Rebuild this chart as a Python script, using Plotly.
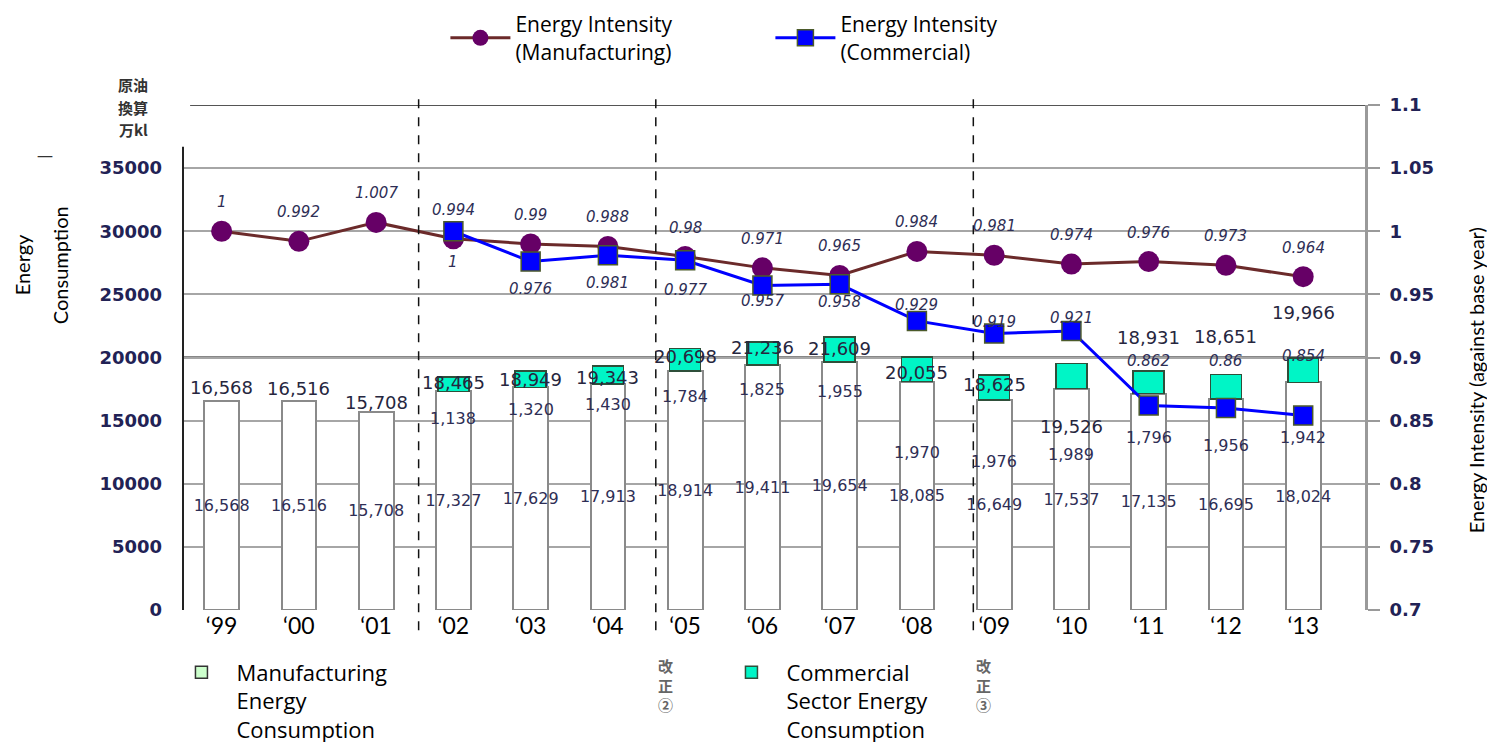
import plotly.graph_objects as go

years = ["‘99", "‘00", "‘01", "‘02", "‘03", "‘04", "‘05", "‘06", "‘07", "‘08", "‘09", "‘10", "‘11", "‘12", "‘13"]
mfg_energy = [16568, 16516, 15708, 17327, 17629, 17913, 18914, 19411, 19654, 18085, 16649, 17537, 17135, 16695, 18024]
com_energy = [None, None, None, 1138, 1320, 1430, 1784, 1825, 1955, 1970, 1976, 1989, 1796, 1956, 1942]
total_energy = [16568, 16516, 15708, 18465, 18949, 19343, 20698, 21236, 21609, 20055, 18625, 19526, 18931, 18651, 19966]
mfg_intensity = [1, 0.992, 1.007, 0.994, 0.99, 0.988, 0.98, 0.971, 0.965, 0.984, 0.981, 0.974, 0.976, 0.973, 0.964]
com_intensity = [None, None, None, 1, 0.976, 0.981, 0.977, 0.957, 0.958, 0.929, 0.919, 0.921, 0.862, 0.86, 0.854]

# label pixel offsets (style: as placed in the original chart; + is up)
total_label_shift = [13, 13, 9, -6, -9, -12, -8, -6, -11, -16, -10, -63, 34, 38, 45]
com_label_shift = [0, 0, 0, -27, -22, -21, -25, -25, -30, -71, -62, -66, -44, -46, -55]
com_int_shift = [0, 0, 0, -31, -27, -28, -30, -15, -18, 16, 12, 13, 44, 47, 60]
mfg_int_shift = 29

revision_boundaries = [2.55, 5.62, 9.73]
left_ticks = [0, 5000, 10000, 15000, 20000, 25000, 30000, 35000]
right_tickvals = [0.7, 0.75, 0.8, 0.85, 0.9, 0.95, 1.0, 1.05, 1.1]
right_ticktext = ["0.7", "0.75", "0.8", "0.85", "0.9", "0.95", "1", "1.05", "1.1"]
unit_lines = ["原油", "換算", "万kl"]

x = list(range(len(years)))
fmt = lambda v: f"{v:,}"
fmt_i = lambda v: f"{v:g}"

LBL = "#2e2e55"
NUMF = "DejaVu Sans, Liberation Sans, Arial"
LAB_FONT = dict(family=NUMF, size=16, color=LBL)
TOT_FONT = dict(family=NUMF, size=18, color="#26263e")
IT_FONT = dict(family=NUMF, size=15, color=LBL, style="italic")
CAL = "Open Sans, Lato, sans-serif"
TICKF = dict(family="DejaVu Sans, Arial", size=18, color="#222255", weight="bold")

fig = go.Figure()

# stacked bars
fig.add_trace(go.Bar(
    x=x, y=mfg_energy, width=0.45, name="Manufacturing<br>Energy<br>Consumption",
    marker=dict(color="white", line=dict(color="#8a8a8a", width=2)),
    text=[fmt(v) for v in mfg_energy], textposition="inside", insidetextanchor="middle",
    textangle=0, constraintext="none", textfont=LAB_FONT, showlegend=False, yaxis="y"))
fig.add_trace(go.Bar(
    x=x, y=com_energy, width=0.4, name="Commercial<br>Sector Energy<br>Consumption",
    marker=dict(color="#00f5c6", line=dict(color="#2f4f3a", width=1.5)),
    legend="legend2", legendrank=2, yaxis="y"))
# legend swatch for the manufacturing series
fig.add_trace(go.Bar(
    x=[None], y=[None], name="Manufacturing<br>Energy<br>Consumption",
    marker=dict(color="#ccffcc", line=dict(color="#333333", width=1.5)),
    legend="legend2", legendrank=1, yaxis="y"))

# intensity lines
fig.add_trace(go.Scatter(
    x=x, y=mfg_intensity, mode="lines+markers", name="Energy Intensity<br>(Manufacturing)",
    line=dict(color="#6b2a2a", width=3), marker=dict(symbol="circle", size=21, color="#660066"),
    yaxis="y2", legendrank=1))
fig.add_trace(go.Scatter(
    x=x, y=com_intensity, mode="lines+markers", name="Energy Intensity<br>(Commercial)",
    line=dict(color="#0000ff", width=3),
    marker=dict(symbol="square", size=19, color="#0000ff", line=dict(color="#4b5a2a", width=1.5)),
    yaxis="y2", legendrank=2))

annotations = []
for i in x:
    annotations.append(dict(x=i, y=total_energy[i], xref="x", yref="y", text=fmt(total_energy[i]),
                            yshift=total_label_shift[i], showarrow=False, font=TOT_FONT))
    annotations.append(dict(x=i, y=mfg_intensity[i], xref="x", yref="y2", text=fmt_i(mfg_intensity[i]),
                            yshift=mfg_int_shift, showarrow=False, font=IT_FONT))
    if com_energy[i] is not None:
        annotations.append(dict(x=i, y=mfg_energy[i], xref="x", yref="y", text=fmt(com_energy[i]),
                                yshift=com_label_shift[i], showarrow=False, font=LAB_FONT))
    if com_intensity[i] is not None:
        annotations.append(dict(x=i, y=com_intensity[i], xref="x", yref="y2", text=fmt_i(com_intensity[i]),
                                yshift=com_int_shift[i], showarrow=False, font=IT_FONT))

shapes = []
for b in revision_boundaries:
    shapes.append(dict(type="line", xref="x", yref="paper", x0=b, x1=b, y0=-0.04, y1=1.016,
                       line=dict(color="#111111", width=1.5, dash="dash"), layer="above"))
shapes.append(dict(type="line", xref="paper", yref="y", x0=0, x1=1, y0=20000, y1=20000,
                   line=dict(color="#111111", width=2), layer="below"))
shapes.append(dict(type="line", xref="paper", yref="y", x0=0.006, x1=1, y0=40000, y1=40000,
                   line=dict(color="#555555", width=2), layer="below"))
shapes.append(dict(type="line", xref="paper", yref="y", x0=0, x1=0, y0=0, y1=36700,
                   line=dict(color="#222222", width=2), layer="above"))

for k, (txt, yy) in enumerate(zip(unit_lines, [1.04, 0.996, 0.952])):
    annotations.append(dict(text=f"<b>{txt}</b>", xref="paper", yref="paper", x=-0.042, y=yy,
                            xanchor="center", yanchor="middle", showarrow=False,
                            font=dict(family="Noto Sans CJK JP", size=15, color="#333333")))

annotations += [
    dict(text="—", xref="paper", yref="paper", x=-0.117, y=0.901, xanchor="center", yanchor="middle",
         showarrow=False, font=dict(family=CAL, size=16, color="#333333")),
    dict(text="Energy", xref="paper", yref="paper", x=-0.136, y=0.683,
         xanchor="center", yanchor="middle",
         textangle=-90, showarrow=False, font=dict(family="Lato, sans-serif", size=20, color="black")),
    dict(text="Consumption", xref="paper", yref="paper", x=-0.104, y=0.683,
         xanchor="center", yanchor="middle",
         textangle=-90, showarrow=False, font=dict(family="Lato, sans-serif", size=20, color="black")),
    dict(text="Energy Intensity (against base year)", xref="paper", yref="paper", x=1.094, y=0.455,
         xanchor="center", yanchor="middle",
         textangle=-90, showarrow=False, font=dict(family="Lato, sans-serif", size=20, color="black")),
    dict(text="<b>改<br>正<br>②</b>", xref="paper", yref="paper", x=0.408, y=-0.085, xanchor="center", yanchor="top",
         showarrow=False, font=dict(family="Noto Sans CJK JP", size=15, color="#666666")),
    dict(text="<b>改<br>正<br>③</b>", xref="paper", yref="paper", x=0.677, y=-0.085, xanchor="center", yanchor="top",
         showarrow=False, font=dict(family="Noto Sans CJK JP", size=15, color="#666666")),
]

fig.update_layout(
    width=1495, height=742, barmode="stack",
    plot_bgcolor="white", paper_bgcolor="white",
    margin=dict(l=175, r=138, t=97, b=140, autoexpand=False),
    font=dict(family=CAL, color="black"),
    xaxis=dict(tickmode="array", tickvals=x, ticktext=years, range=[-0.5, 14.8],
               showgrid=False, showline=False, ticks="",
               tickfont=dict(family="Lato, sans-serif", size=23, color="black")),
    yaxis=dict(range=[0, 40000], tickvals=left_ticks, tickformat="d", showgrid=True,
               gridcolor="#a6a6a6", gridwidth=2, showline=False, zeroline=False, ticks="",
               tickfont=TICKF, ticklabelstandoff=20),
    yaxis2=dict(range=[0.7, 1.1], overlaying="y", side="right", tickvals=right_tickvals,
                ticktext=right_ticktext, showgrid=False, showline=True, linecolor="#9a9a9a", linewidth=3,
                zeroline=False, ticks="outside", ticklen=12, tickcolor="#9a9a9a", tickwidth=2,
                tickfont=TICKF, ticklabelstandoff=6),
    legend=dict(orientation="h", x=0.222, y=1.2, xanchor="left", yanchor="top",
                font=dict(family=CAL, size=21, color="black"), entrywidth=250, itemwidth=60,
                valign="middle", traceorder="normal", bgcolor="rgba(0,0,0,0)"),
    legend2=dict(orientation="h", x=-0.014, y=-0.082, xanchor="left", yanchor="top",
                 font=dict(family=CAL, size=22, color="black"), entrywidth=475, itemwidth=60,
                 valign="top", traceorder="normal", bgcolor="rgba(0,0,0,0)"),
    shapes=shapes, annotations=annotations,
)

fig.write_html("out.html")
